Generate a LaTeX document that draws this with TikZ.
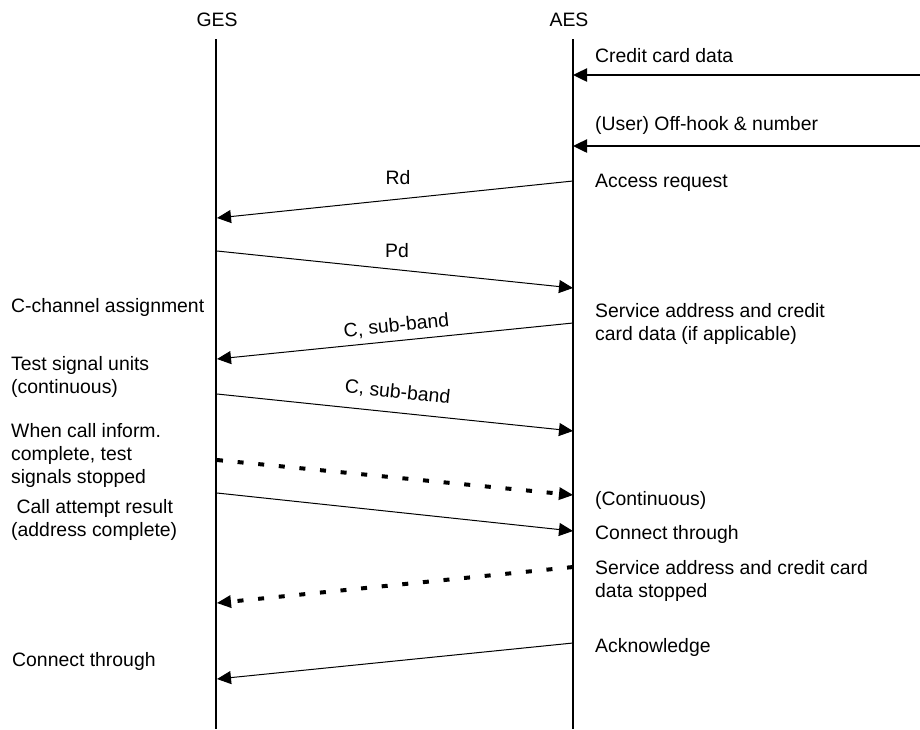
\documentclass[tikz,border=0pt]{standalone}
\usepackage{fontspec}
\setmainfont{Liberation Sans}
\usetikzlibrary{arrows.meta,positioning}
\begin{document}
\begin{tikzpicture}[x=1pt,y=-1pt]
            \tikzstyle{txt} = [inner sep=0pt, align=left, anchor=base west, font=\fontsize{19.4}{23}\selectfont]
            \tikzstyle{head} = [inner sep=0pt, anchor=base, font=\fontsize{19.4}{23}\selectfont]
            \tikzstyle{life} = [line width=2.2pt]
            \tikzstyle{msg} = [line width=1pt, -{Triangle[length=14pt,width=13pt]}]
            \tikzstyle{input} = [line width=2.5pt, -{Triangle[length=14pt,width=13pt]}]
            \tikzstyle{dotmsg} = [line width=4pt, dash pattern=on 6pt off 14.7pt, -{Triangle[length=14pt,width=13pt,line width=0pt]}]

            \useasboundingbox (0,0) rectangle (920,729);

            % Stations
            \node (ges) [head] at (217,26) {GES};
            \node (aes) [head] at (569,26) {AES};
            \coordinate (gestop) at (216,39);
            \coordinate (gesbot) at (216,729);
            \coordinate (aestop) at (573,39);
            \coordinate (aesbot) at (573,729);

            % Nodes (AES side), placed at the baseline of their last line
            \node (credit) [txt] at (595,62) {Credit card data};
            \node (offhook) [txt] at (595,130) {(User) Off-hook \& number};
            \node (access) [txt] at (595,187) {Access request};
            \node (service) [txt] at (595,340) {Service address and credit\\card data (if applicable)};
            \node (contin) [txt] at (595,505) {(Continuous)};
            \node (connaes) [txt] at (595,539) {Connect through};
            \node (stopped) [txt] at (595,597) {Service address and credit card\\data stopped};
            \node (ack) [txt] at (595,652) {Acknowledge};

            % Nodes (GES side)
            \node (cchan) [txt] at (11,312) {C-channel assignment};
            \node (tsu) [txt] at (11,393) {Test signal units\\(continuous)};
            \node (whencall) [txt] at (11,483) {When call inform.\\complete, test\\signals stopped};
            \node (attempt) [txt] at (11,536) {\ Call attempt result\\(address complete)};
            \node (connges) [txt] at (12,666) {Connect through};

            % Message labels
            \node (rd) [head] at (398,184) {Rd};
            \node (pd) [head] at (397,257) {Pd};
            \node (subband1) [head, rotate=6] at (397,332) {C, sub-band};
            \node (subband2) [head, rotate=-6] at (397,398) {C, sub-band};

            % Message ends
            \coordinate (cc0) at (920,75);  \coordinate (cc1) at (573,75);
            \coordinate (oh0) at (920,146); \coordinate (oh1) at (573,146);
            \coordinate (rd0) at (573,181); \coordinate (rd1) at (217,218);
            \coordinate (pd0) at (217,251); \coordinate (pd1) at (573,288);
            \coordinate (sa0) at (573,323); \coordinate (sa1) at (217,359);
            \coordinate (sg0) at (217,394); \coordinate (sg1) at (573,431);
            \coordinate (ts0) at (217,460); \coordinate (ts1) at (573,495);
            \coordinate (ca0) at (217,493); \coordinate (ca1) at (573,531);
            \coordinate (ss0) at (573,567); \coordinate (ss1) at (217,603);
            \coordinate (ak0) at (573,643); \coordinate (ak1) at (217,679);

            % Lifelines
            \draw [life] (gestop) -- (gesbot);
            \draw [life] (aestop) -- (aesbot);

            % Arrows
            \draw [input] (cc0) -- (cc1);
            \draw [input] (oh0) -- (oh1);
            \draw [msg] (rd0) -- (rd1);
            \draw [msg] (pd0) -- (pd1);
            \draw [msg] (sa0) -- (sa1);
            \draw [msg] (sg0) -- (sg1);
            \draw [dotmsg] (ts0) -- (ts1);
            \draw [msg] (ca0) -- (ca1);
            \draw [dotmsg] (ss0) -- (ss1);
            \draw [msg] (ak0) -- (ak1);
        \end{tikzpicture}
\end{document}
